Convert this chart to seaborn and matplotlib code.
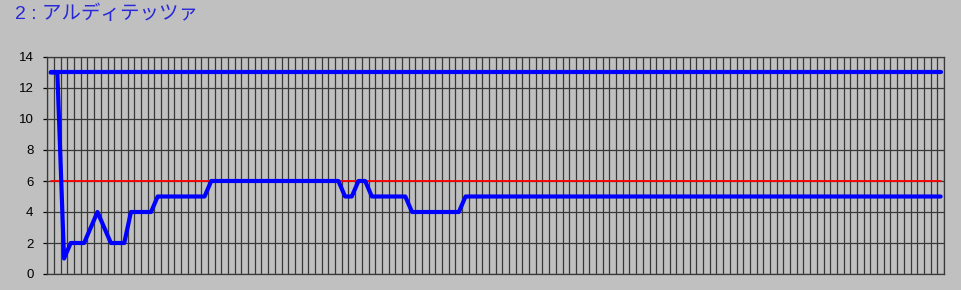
import numpy as np
import pandas as pd
import matplotlib
matplotlib.use("Agg")
import matplotlib.pyplot as plt
import seaborn as sns

# ---- data ----
title_text = "2 : アルディテッツァ"
y_ticks = [0, 2, 4, 6, 8, 10, 12, 14]
n_cat = 134
categories = list(range(1, n_cat + 1))
upper_values = [13] * n_cat
threshold_values = [6] * n_cat
player_values = [
    13, 13, 1, 2, 2, 2, 3, 4, 3, 2,
    2, 2, 4, 4, 4, 4, 5, 5, 5, 5,
    5, 5, 5, 5, 6, 6, 6, 6, 6, 6,
    6, 6, 6, 6, 6, 6, 6, 6, 6, 6,
    6, 6, 6, 6, 5, 5, 6, 6, 5, 5,
    5, 5, 5, 5, 4, 4, 4, 4, 4, 4,
    4, 4, 5, 5, 5, 5, 5, 5, 5, 5,
    5, 5, 5, 5, 5, 5, 5, 5, 5, 5,
    5, 5, 5, 5, 5, 5, 5, 5, 5, 5,
    5, 5, 5, 5, 5, 5, 5, 5, 5, 5,
    5, 5, 5, 5, 5, 5, 5, 5, 5, 5,
    5, 5, 5, 5, 5, 5, 5, 5, 5, 5,
    5, 5, 5, 5, 5, 5, 5, 5, 5, 5,
    5, 5, 5, 5,
]

df = pd.DataFrame({
    "cat": categories,
    "upper": upper_values,
    "threshold": threshold_values,
    "player": player_values,
})

sns.set_style("white")
plt.rcParams["font.family"] = ["Liberation Sans", "DejaVu Sans"]

bg = "#C0C0C0"
grid_c = "#383838"
fig = plt.figure(figsize=(9.61, 2.90), dpi=100, facecolor=bg)
ax = fig.add_axes([47.3 / 961, 1 - 274 / 290, (944 - 47.3) / 961, (274 - 57) / 290])
ax.set_facecolor(bg)

sns.lineplot(data=df, x="cat", y="threshold", ax=ax, color="#FF0000", linewidth=1.3, zorder=3)
sns.lineplot(data=df, x="cat", y="player", ax=ax, color="#0000FF", linewidth=3.0, zorder=4)
sns.lineplot(data=df, x="cat", y="upper", ax=ax, color="#0000FF", linewidth=3.0, zorder=5)

ax.set_xlim(0.5, n_cat + 0.5)
ax.set_ylim(0, 14)
ax.set_xticks(np.arange(0.5, n_cat + 1.0, 1.0))
ax.set_xticklabels([])
ax.set_yticks(y_ticks)
ax.set_yticklabels([str(v) for v in y_ticks])
ax.tick_params(axis="x", length=0)
ax.tick_params(axis="y", length=3, width=0.9, color="#000000", pad=7,
               labelsize=9.5, labelcolor="#000000", left=True)
ax.grid(True, color=grid_c, linewidth=0.9)
ax.set_axisbelow(True)
for s in ax.spines.values():
    s.set_visible(True)
    s.set_color(grid_c)
    s.set_linewidth(0.9)
ax.set_xlabel("")
ax.set_ylabel("")

fig.text(15 / 961, 1 - 5 / 290, title_text, ha="left", va="top",
         fontsize=14, color="#2828D8",
         family=["Liberation Sans", "Noto Sans CJK JP", "DejaVu Sans"])

fig.savefig("out.png", dpi=100, facecolor=bg)
